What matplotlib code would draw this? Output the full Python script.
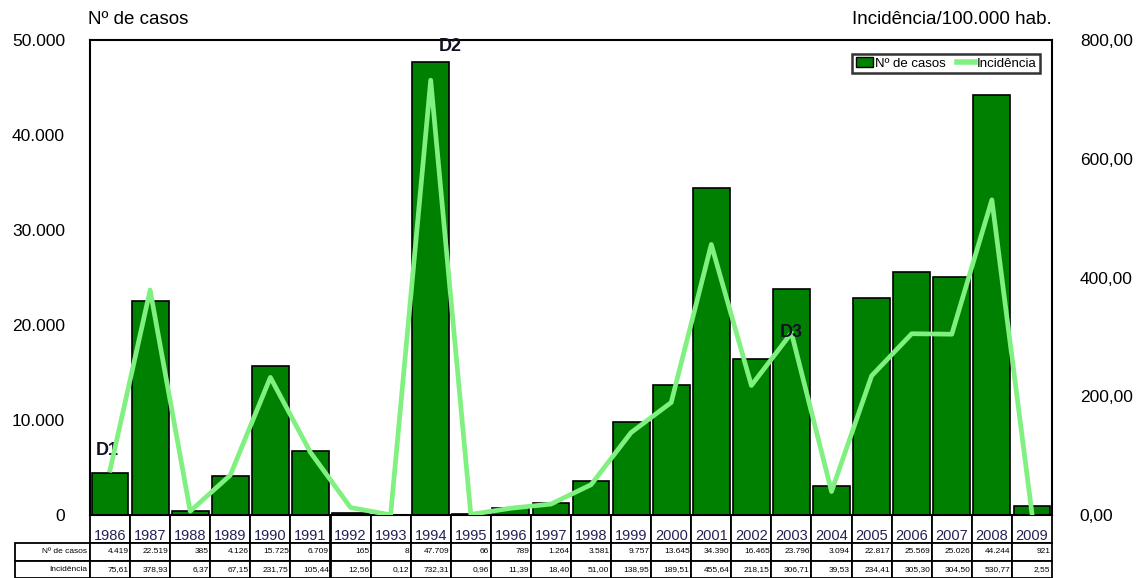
import matplotlib
matplotlib.use("Agg")
import matplotlib.pyplot as plt
import numpy as np
from matplotlib.patches import Patch
from matplotlib.lines import Line2D

plt.rcParams['font.family'] = ['Liberation Sans', 'DejaVu Sans']

# dados anuais
anos = [1986, 1987, 1988, 1989, 1990, 1991, 1992, 1993, 1994, 1995, 1996, 1997,
        1998, 1999, 2000, 2001, 2002, 2003, 2004, 2005, 2006, 2007, 2008, 2009]
casos = [4419, 22519, 385, 4126, 15725, 6709, 165, 8, 47709, 66, 789, 1264,
         3581, 9757, 13645, 34390, 16465, 23796, 3094, 22817, 25569, 25026, 44244, 921]
incidencia = [75.61, 378.93, 6.37, 67.15, 231.75, 105.44, 12.56, 0.12, 732.31, 0.96,
              11.39, 18.40, 51.00, 138.95, 189.51, 455.64, 218.15, 306.71, 39.53,
              234.41, 305.30, 304.50, 530.77, 2.55]
# epidemias marcadas
epidemias = {1986: 'D1', 1994: 'D2', 2003: 'D3'}

def fmt_milhar(v):
    return f"{v:,.0f}".replace(",", ".")

def fmt_dec(v):
    return f"{v:.2f}".replace(".", ",")

verde = '#008000'
verde_claro = '#80F080'

fig = plt.figure(figsize=(11.39, 5.78), dpi=100)
ax = fig.add_axes([90/1139, 63/578, 962/1139, 475/578])
x = np.arange(len(anos))

ax.bar(x, casos, width=0.92, color=verde, edgecolor='black', linewidth=1.2, zorder=2)
ax.set_xlim(-0.5, len(anos) - 0.5)
ax.set_ylim(0, 50000)
ax.set_yticks(np.arange(0, 50001, 10000))
ax.set_yticklabels([fmt_milhar(v) for v in np.arange(0, 50001, 10000)], fontsize=12.5)
ax.tick_params(axis='y', length=0, pad=18)
ax.set_xticks([])
for s in ax.spines.values():
    s.set_linewidth(1.5)

ax2 = ax.twinx()
ax2.plot(x, incidencia, color=verde_claro, linewidth=3.4, zorder=3)
ax2.set_ylim(0, 800)
ax2.set_yticks(np.arange(0, 801, 200))
ax2.set_yticklabels([fmt_dec(v) for v in np.arange(0, 801, 200)], fontsize=12.5)
ax2.tick_params(axis='y', length=0, pad=20)
for s in ax2.spines.values():
    s.set_visible(False)

# rótulos das epidemias
for ano, rot in epidemias.items():
    i = anos.index(ano)
    if rot == 'D3':
        ax2.annotate(rot, (x[i], incidencia[i]), ha='center', va='center',
                     fontsize=13, fontweight='bold', color='#111122')
    elif rot == 'D2':
        ax.annotate(rot, (x[i], casos[i]), xytext=(14, 5), textcoords='offset points',
                    ha='center', va='bottom', fontsize=13, fontweight='bold', color='#111122')
    else:
        ax.annotate(rot, (x[i], casos[i]), xytext=(-2, 10), textcoords='offset points',
                    ha='center', va='bottom', fontsize=13, fontweight='bold', color='#111122')

fig.text(88/1139, 1 - 19/578, 'Nº de casos', fontsize=13.5, va='center', ha='left')
fig.text(1052/1139, 1 - 19/578, 'Incidência/100.000 hab.', fontsize=13.5,
         va='center', ha='right')

# legenda
handles = [Patch(facecolor=verde, edgecolor='black', label='Nº de casos'),
           Line2D([0], [0], color=verde_claro, linewidth=4, label='Incidência')]
leg = ax2.legend(handles=handles, loc='upper right', ncol=2, fontsize=9.5,
                 frameon=True, fancybox=False, borderpad=0.25, handlelength=1.3,
                 handleheight=0.8, handletextpad=0.15, columnspacing=0.9,
                 bbox_to_anchor=(0.994, 0.985))
leg.get_frame().set_edgecolor('black')
leg.get_frame().set_linewidth(1.8)

# tabela de dados
larg_rot = 75/962
larg_col = 1/len(anos)
linhas = [[''] + [str(a) for a in anos],
          ['Nº de casos'] + [fmt_milhar(v) for v in casos],
          ['Incidência'] + [fmt_dec(v) for v in incidencia]]
h_tab = 63/475
tab = ax.table(cellText=linhas, colWidths=[larg_rot] + [larg_col]*len(anos),
               cellLoc='right', bbox=[-larg_rot, -h_tab, 1 + larg_rot, h_tab])
tab.auto_set_font_size(False)
alturas = [28, 17.5, 17.5]
for (r, c), cel in tab.get_celld().items():
    cel.set_height(alturas[r])
    cel.set_linewidth(1.3)
    cel.PAD = 0.04
    if r == 0:
        cel.get_text().set_fontsize(10.5)
        cel.get_text().set_va('top')
        cel.get_text().set_ha('center')
        cel._loc = 'center'
        cel.set_text_props(color='#222255')
        if c == 0:
            cel.visible_edges = ''
    else:
        cel.get_text().set_fontsize(6)

fig.savefig('out.png', dpi=100, facecolor='white')
